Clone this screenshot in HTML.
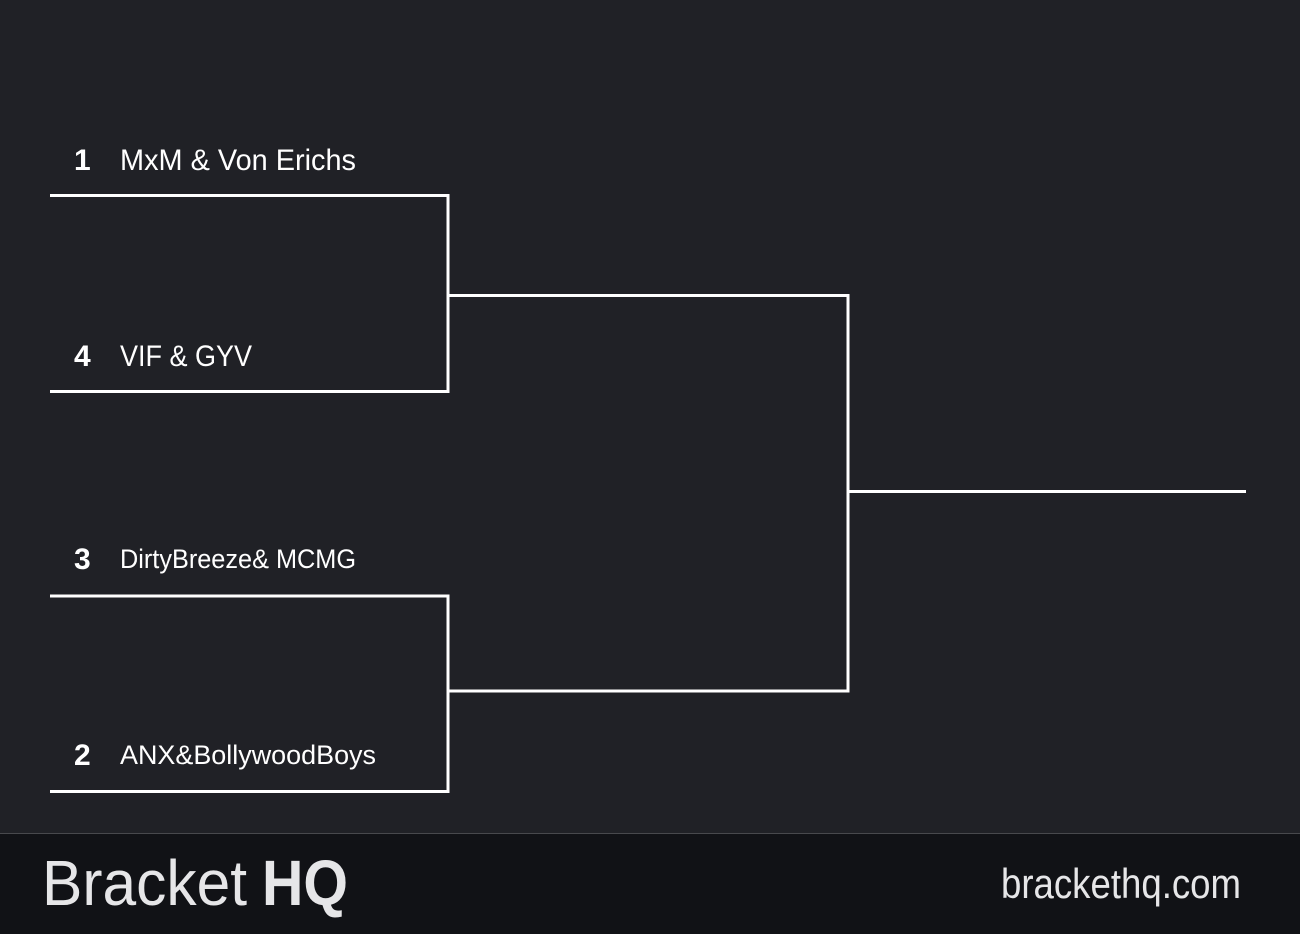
<!DOCTYPE html>
<html><head><meta charset="utf-8"><style>
html,body{margin:0;padding:0;background:#202126;}
svg{display:block;}
</style></head><body>
<svg width="1300" height="934" viewBox="0 0 1300 934" xmlns="http://www.w3.org/2000/svg">
<rect x="0" y="0" width="1300" height="934" fill="#202126"/>
<g stroke="#ffffff" stroke-width="3" fill="none">
<polyline points="50,195.5 448,195.5 448,391.5 50,391.5"/>
<polyline points="50,596 448,596 448,791.5 50,791.5"/>
<polyline points="448,295.5 848,295.5 848,691 448,691"/>
<line x1="848" y1="491.5" x2="1246" y2="491.5"/>
</g>
<g font-family="Liberation Sans, sans-serif" fill="#ffffff">
<text x="74" y="170" font-size="30" font-weight="bold">1</text>
<text x="120" y="170" font-size="30" textLength="236" lengthAdjust="spacingAndGlyphs">MxM &amp; Von Erichs</text>
<text x="74" y="366" font-size="30" font-weight="bold">4</text>
<text x="120" y="366" font-size="30" textLength="132" lengthAdjust="spacingAndGlyphs">VIF &amp; GYV</text>
<text x="74" y="569" font-size="30" font-weight="bold">3</text>
<text x="120" y="568" font-size="27" textLength="236" lengthAdjust="spacingAndGlyphs">DirtyBreeze&amp; MCMG</text>
<text x="74" y="765" font-size="30" font-weight="bold">2</text>
<text x="120" y="764" font-size="27" textLength="256" lengthAdjust="spacingAndGlyphs">ANX&amp;BollywoodBoys</text>
</g>
<rect x="0" y="833" width="1300" height="101" fill="#111216"/>
<line x1="0" y1="833.5" x2="1300" y2="833.5" stroke="#48494d" stroke-width="1"/>
<g font-family="Liberation Sans, sans-serif" fill="#e6e6e8">
<text x="42" y="905" font-size="64" textLength="205" lengthAdjust="spacingAndGlyphs">Bracket</text>
<text x="262" y="905" font-size="64" font-weight="bold" textLength="86" lengthAdjust="spacingAndGlyphs">HQ</text>
<text x="1001" y="898" font-size="42" textLength="240" lengthAdjust="spacingAndGlyphs">brackethq.com</text>
</g>
</svg>
</body></html>
